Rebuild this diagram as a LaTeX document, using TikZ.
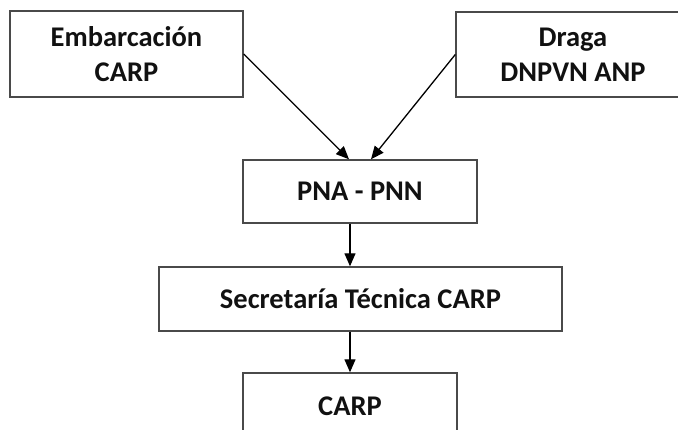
\documentclass[tikz,border=0pt]{standalone}
\usepackage{fontspec}
\setmainfont{Carlito}
\usetikzlibrary{arrows.meta,calc}
\definecolor{boxgray}{HTML}{4A4A4A}
\definecolor{txt}{HTML}{111111}
\begin{document}
\begin{tikzpicture}[x=1pt,y=1pt,
  box/.style={draw=boxgray, line width=1.4pt, fill=white, inner sep=0pt,
    align=center, text=txt, font=\fontsize{28.5}{35}\selectfont\bfseries},
  arr/.style={draw=black, line width=1.3pt, -{Triangle[length=13pt,width=11pt]}}]
\useasboundingbox (0,0) rectangle (678,430);
\clip (0,0) rectangle (678,430);
\node[box, minimum width=233pt, minimum height=86pt] (A) at (126.5,376) {Embarcación\\CARP};
\node[box, minimum width=234pt, minimum height=85pt] (B) at (573,375.5) {Draga\\DNPVN ANP};
\node[box, minimum width=234pt, minimum height=63pt] (C) at (360,238.5) {PNA - PNN};
\node[box, minimum width=403pt, minimum height=64pt] (D) at (360.5,131) {Secretaría Técnica CARP};
\node[box, minimum width=214pt, minimum height=67pt] (E) at (350,23.5) {CARP};
\draw[arr] (A.east) -- ($(C.north)+(-11,0)$);
\draw[arr] (B.west) -- ($(C.north)+(11,0)$);
\draw[arr] ([xshift=-10pt]C.south) -- ([xshift=-10pt]C.south |- D.north);
\draw[arr] (E.north |- D.south) -- (E.north);
\end{tikzpicture}
\end{document}
